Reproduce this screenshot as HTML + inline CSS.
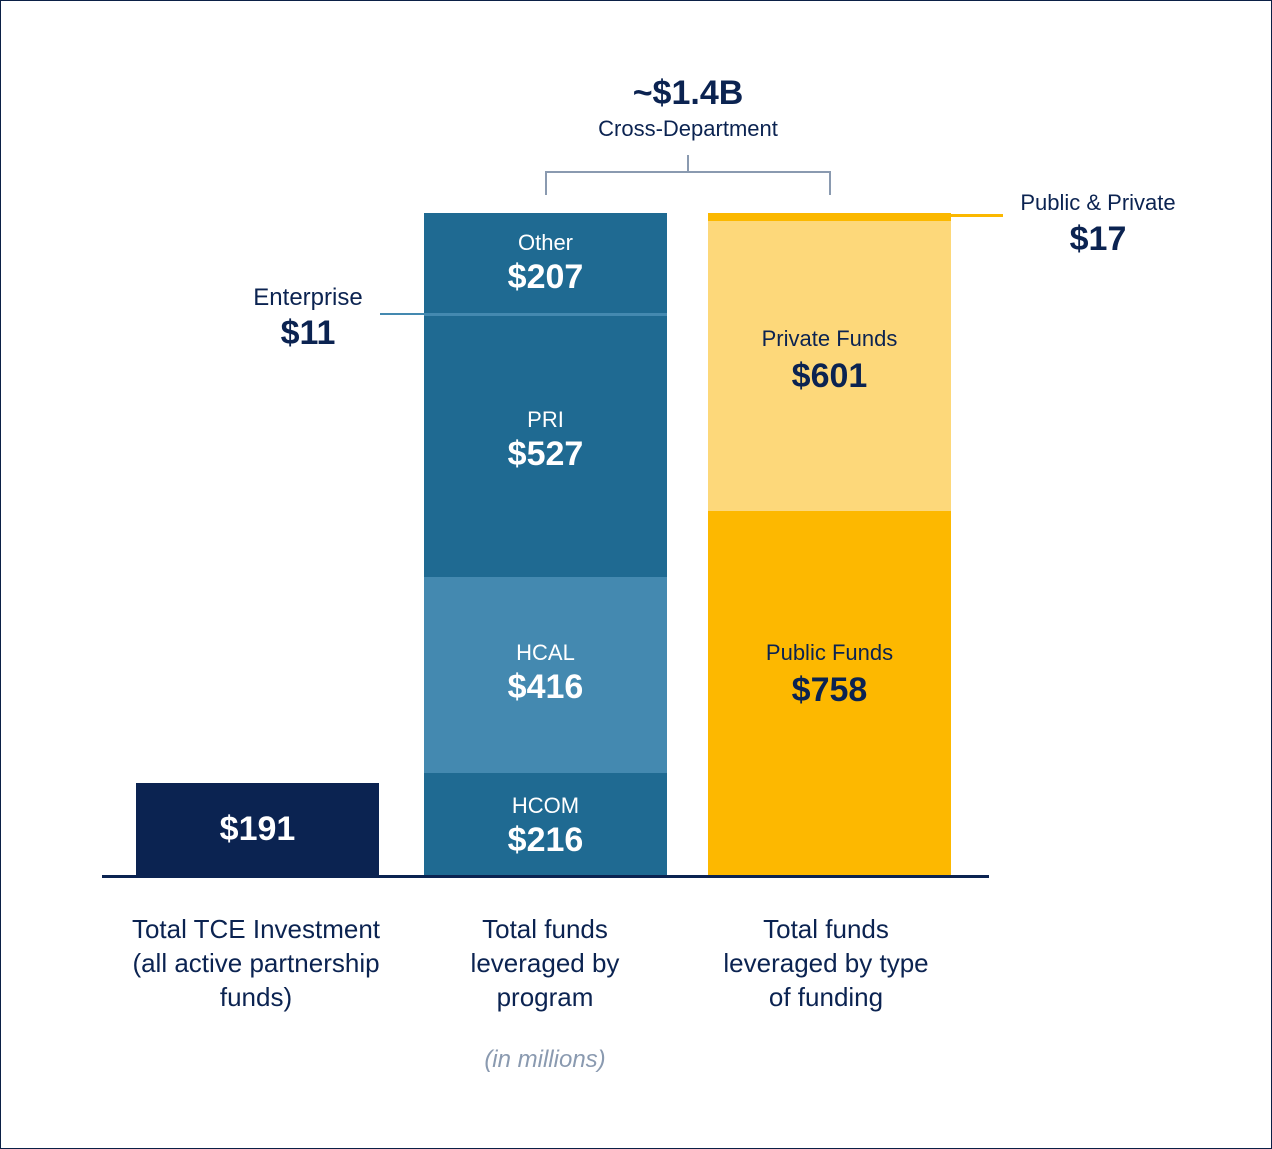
<!DOCTYPE html>
<html><head><meta charset="utf-8"><style>
body{margin:0;background:#fff;}
#c{position:relative;width:1272px;height:1149px;box-shadow:inset 0 0 0 1px #0b2046;overflow:hidden;font-family:"Liberation Sans",sans-serif;color:#0b2351;}
.a{position:absolute;}
.t{position:absolute;text-align:center;line-height:1;}
.s{font-size:22px;}
.b{font-size:34px;font-weight:bold;}
.w{color:#fff;}
.lab{font-size:26px;line-height:34px;}
</style></head><body><div id="c">
<div class="a" style="left:687px;top:155px;width:2px;height:17px;background:#8a9ab0"></div>
<div class="a" style="left:545px;top:171px;width:286px;height:2px;background:#8a9ab0"></div>
<div class="a" style="left:545px;top:171px;width:2px;height:24px;background:#8a9ab0"></div>
<div class="a" style="left:829px;top:171px;width:2px;height:24px;background:#8a9ab0"></div>
<div class="t b" style="left:588px;width:200px;top:76px">~$1.4B</div>
<div class="t s" style="left:568px;width:240px;top:118px">Cross-Department</div>

<div class="a" style="left:136px;top:783px;width:243px;height:93px;background:#0b2351"></div>
<div class="t b w" style="left:136px;width:243px;top:812px">$191</div>

<div class="a" style="left:424px;top:213px;width:243px;height:100px;background:#1f6a92"></div>
<div class="a" style="left:424px;top:313px;width:243px;height:3px;background:#4489b0"></div>
<div class="a" style="left:424px;top:316px;width:243px;height:261px;background:#1f6a92"></div>
<div class="a" style="left:424px;top:577px;width:243px;height:196px;background:#4489b0"></div>
<div class="a" style="left:424px;top:773px;width:243px;height:103px;background:#1f6a92"></div>
<div class="t s w" style="left:424px;width:243px;top:232px">Other</div>
<div class="t b w" style="left:424px;width:243px;top:260px">$207</div>
<div class="t s w" style="left:424px;width:243px;top:409px">PRI</div>
<div class="t b w" style="left:424px;width:243px;top:437px">$527</div>
<div class="t s w" style="left:424px;width:243px;top:642px">HCAL</div>
<div class="t b w" style="left:424px;width:243px;top:670px">$416</div>
<div class="t s w" style="left:424px;width:243px;top:795px">HCOM</div>
<div class="t b w" style="left:424px;width:243px;top:823px">$216</div>
<div class="a" style="left:380px;top:313px;width:44px;height:2px;background:#4489b0"></div>
<div class="t" style="left:228px;width:160px;top:286px;font-size:24px">Enterprise</div>
<div class="t b" style="left:228px;width:160px;top:316px">$11</div>

<div class="a" style="left:708px;top:213px;width:243px;height:8px;background:#fbb800"></div>
<div class="a" style="left:708px;top:221px;width:243px;height:290px;background:#fdd87a"></div>
<div class="a" style="left:708px;top:511px;width:243px;height:365px;background:#fdb800"></div>
<div class="a" style="left:951px;top:214px;width:52px;height:3px;background:#fbb800"></div>
<div class="t s" style="left:708px;width:243px;top:328px">Private Funds</div>
<div class="t b" style="left:708px;width:243px;top:359px">$601</div>
<div class="t s" style="left:708px;width:243px;top:642px">Public Funds</div>
<div class="t b" style="left:708px;width:243px;top:673px">$758</div>
<div class="t s" style="left:1008px;width:180px;top:192px">Public &amp; Private</div>
<div class="t b" style="left:1008px;width:180px;top:222px">$17</div>

<div class="a" style="left:102px;top:875px;width:887px;height:3px;background:#0b2351"></div>

<div class="t lab" style="left:106px;width:300px;top:912px">Total TCE Investment<br>(all active partnership<br>funds)</div>
<div class="t lab" style="left:395px;width:300px;top:912px">Total funds<br>leveraged by<br>program</div>
<div class="t lab" style="left:676px;width:300px;top:912px">Total funds<br>leveraged by type<br>of funding</div>
<div class="t" style="left:445px;width:200px;top:1048px;font-size:24px;font-style:italic;color:#8a9ab0">(in millions)</div>
</div></body></html>
